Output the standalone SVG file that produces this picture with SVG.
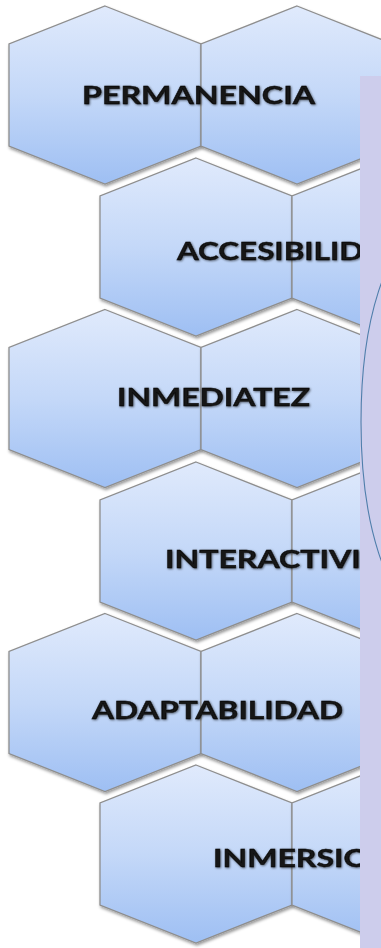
<svg xmlns="http://www.w3.org/2000/svg" width="381" height="948" viewBox="0 0 381 948">
  <defs>
    <linearGradient id="hexFill" x1="0" y1="0" x2="0" y2="1">
      <stop offset="0" stop-color="#e0eafc"/>
      <stop offset="0.5" stop-color="#c4d8f8"/>
      <stop offset="1" stop-color="#9ebff3"/>
    </linearGradient>
    <filter id="hexShadow" x="-10%" y="-10%" width="125%" height="125%">
      <feDropShadow dx="1" dy="2" stdDeviation="1.4" flood-color="#000" flood-opacity="0.4"/>
    </filter>
    <filter id="textGlow" x="-5%" y="-30%" width="110%" height="160%">
      <feDropShadow dx="0.8" dy="0.8" stdDeviation="1" flood-color="#000" flood-opacity="0.6"/>
    </filter>
    <!-- flattened pointy-top hexagon, centred on the origin -->
    <path id="hex" d="M0,-89 L96,-51 L96,51 L0,89 L-96,51 L-96,-51 Z"/>
    <clipPath id="panelClip">
      <rect x="360" y="76" width="21" height="872"/>
    </clipPath>
  </defs>
  <style>
    .cell { fill: url(#hexFill); stroke: #8e8e8e; stroke-width: 1.3; filter: url(#hexShadow); }
    .label { font-family: "Lato", "Open Sans", "Liberation Sans", sans-serif; font-weight: 700; font-size: 25.5px; fill: #121212; stroke: #121212; stroke-width: 0.45; filter: url(#textGlow); }
    .panel { fill: #cdcdec; }
    .arc { fill: none; stroke: #4f7eab; stroke-width: 1.1; }
  </style>

  <rect width="381" height="948" fill="#ffffff"/>

  <g id="permanencia">
    <use href="#hex" class="cell" x="105" y="95"/>
    <use href="#hex" class="cell" x="297" y="95"/>
    <text class="label" x="82" y="104" textLength="233" lengthAdjust="spacingAndGlyphs">PERMANENCIA</text>
  </g>

  <g id="accesibilidad">
    <use href="#hex" class="cell" x="196" y="247"/>
    <use href="#hex" class="cell" x="388" y="247"/>
    <text class="label" x="177" y="260" textLength="231" lengthAdjust="spacingAndGlyphs">ACCESIBILIDAD</text>
  </g>

  <g id="inmediatez">
    <use href="#hex" class="cell" x="105" y="398.5"/>
    <use href="#hex" class="cell" x="297" y="398.5"/>
    <text class="label" x="117" y="406" textLength="193" lengthAdjust="spacingAndGlyphs">INMEDIATEZ</text>
  </g>

  <g id="interactividad">
    <use href="#hex" class="cell" x="196" y="551"/>
    <use href="#hex" class="cell" x="388" y="551"/>
    <text class="label" x="165" y="568" textLength="266" lengthAdjust="spacingAndGlyphs">INTERACTIVIDAD</text>
  </g>

  <g id="adaptabilidad">
    <use href="#hex" class="cell" x="105" y="702.5"/>
    <use href="#hex" class="cell" x="297" y="702.5"/>
    <text class="label" x="92" y="719" textLength="251" lengthAdjust="spacingAndGlyphs">ADAPTABILIDAD</text>
  </g>

  <g id="inmersion">
    <use href="#hex" class="cell" x="196" y="854"/>
    <use href="#hex" class="cell" x="388" y="854"/>
    <text class="label" x="213" y="867" textLength="181" lengthAdjust="spacingAndGlyphs">INMERSION</text>
  </g>

  <g id="connectors"/>

  <g id="panel">
    <rect class="panel" x="360" y="76" width="21" height="872"/>
    <ellipse class="arc" cx="421" cy="422" rx="60" ry="185" clip-path="url(#panelClip)"/>
  </g>
</svg>
